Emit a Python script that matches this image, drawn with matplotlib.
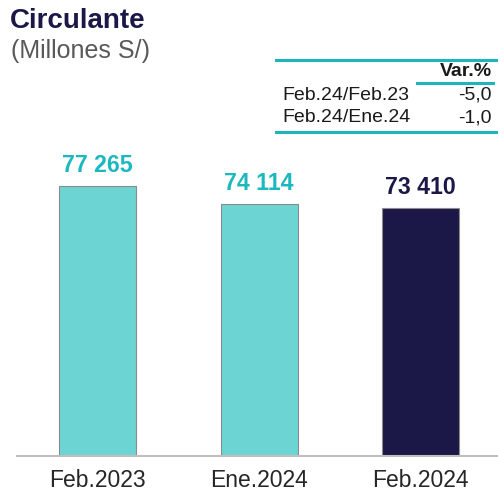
import matplotlib
matplotlib.use("Agg")
import matplotlib.pyplot as plt
from matplotlib.lines import Line2D

plt.rcParams['font.family'] = ['Liberation Sans', 'DejaVu Sans']

# data
categories = ['Feb.2023', 'Ene.2024', 'Feb.2024']
values = [77265, 74114, 73410]
value_labels = ['77 265', '74 114', '73 410']
table_rows = ['Feb.24/Feb.23', 'Feb.24/Ene.24']
table_vars = ['-5,0', '-1,0']

NAVY = '#1B1746'
TEAL_BAR = '#6CD5D3'
TEAL_TXT = '#1CB8C0'
TEAL_LINE = '#1CB5BD'
GRAY = '#595959'

W, H = 498, 493
fig = plt.figure(figsize=(W / 100, H / 100), dpi=100)


def fx(px):
    return px / W


def fy(py):
    return 1 - py / H


ax = fig.add_axes([fx(17), fy(456), 1 - fx(17), fy(150) - fy(456)])
bar_colors = [TEAL_BAR, TEAL_BAR, NAVY]
text_colors = [TEAL_TXT, TEAL_TXT, NAVY]
x = range(len(categories))
ax.bar(x, values, width=0.478, color=bar_colors, edgecolor='#8C8C8C', linewidth=0.8)
ax.set_ylim(30000, 83570)
ax.set_xlim(-0.5, 2.48)

for i, v in enumerate(values):
    ax.annotate(value_labels[i], (i, v), xytext=(0, 14.5), textcoords='offset points',
                ha='center', va='center', fontsize=16.7, fontweight='bold', color=text_colors[i])

for s in ['top', 'right', 'left']:
    ax.spines[s].set_visible(False)
ax.spines['bottom'].set_color('#BFBFBF')
ax.spines['bottom'].set_linewidth(1.5)
ax.set_yticks([])
ax.set_xticks(list(x))
ax.set_xticklabels(categories, fontsize=16.5, color='#262626')
ax.tick_params(axis='x', length=0, pad=9.5)

# title
fig.text(fx(10), fy(21), 'Circulante', fontsize=20, fontweight='bold', color=NAVY, va='center')
fig.text(fx(11), fy(51), '(Millones S/)', fontsize=18, color=GRAY, va='center')

# small table
fig.add_artist(Line2D([fx(276), fx(498)], [fy(60), fy(60)], color=TEAL_LINE, lw=2.2))
fig.add_artist(Line2D([fx(417), fx(493)], [fy(83), fy(83)], color=TEAL_LINE, lw=2.2))
fig.add_artist(Line2D([fx(276), fx(498)], [fy(132), fy(132)], color=TEAL_LINE, lw=2.2))
fig.text(fx(492), fy(72), 'Var.%', fontsize=14, fontweight='bold', ha='right', va='center', color='#1a1a1a')
for i, (r, v) in enumerate(zip(table_rows, table_vars)):
    y = 95 + i * 23
    fig.text(fx(282), fy(y), r, fontsize=14, ha='left', va='center', color='#1a1a1a')
    fig.text(fx(492), fy(y), v, fontsize=14, ha='right', va='center', color='#1a1a1a')

fig.savefig('out.png', dpi=100)
